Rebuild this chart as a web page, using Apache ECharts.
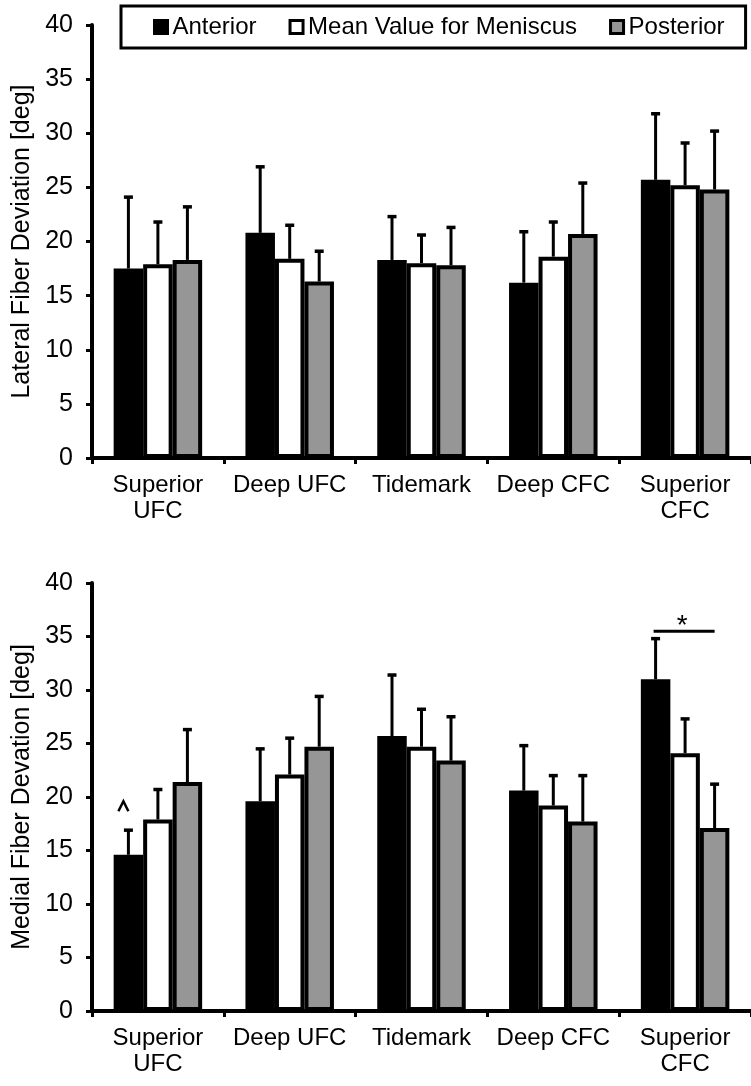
<!DOCTYPE html>
<html>
<head>
<meta charset="utf-8">
<script src="https://cdn.jsdelivr.net/npm/echarts@6/dist/echarts.min.js"></script>
<style>
  html, body { margin: 0; padding: 0; background: #fff; }
  #chart { width: 751px; height: 1086px; }
</style>
</head>
<body>
<div id="chart"></div>
<script>
// categories along both x axes
var categories = ['Superior\nUFC', 'Deep UFC', 'Tidemark', 'Deep CFC', 'Superior\nCFC'];
var seriesNames = ['Anterior', 'Mean Value for Meniscus', 'Posterior'];
var seriesColors = ['#000000', '#ffffff', '#969696'];

// lateral (top chart) means and SD
var latAnterior = [17.5, 20.8, 18.3, 16.2, 25.7];
var latMean     = [17.9, 18.4, 18.0, 18.6, 25.2];
var latPosterior = [18.3, 16.3, 17.8, 20.7, 24.8];
var latAnteriorSd = [6.6, 6.1, 4.0, 4.7, 6.1];
var latMeanSd     = [3.9, 3.1, 2.6, 3.2, 3.9];
var latPosteriorSd = [4.9, 2.8, 3.5, 4.7, 5.4];

// medial (bottom chart) means and SD
var medAnterior = [14.6, 19.6, 25.7, 20.6, 31.0];
var medMean     = [17.9, 22.1, 24.7, 19.2, 24.1];
var medPosterior = [21.4, 24.7, 23.4, 17.7, 17.1];
var medAnteriorSd = [2.3, 4.9, 5.7, 4.2, 3.8];
var medMeanSd     = [2.8, 3.4, 3.5, 2.8, 3.2];
var medPosteriorSd = [4.9, 4.7, 4.1, 4.3, 4.1];

// significance marks on the medial chart
var sigStar = [[4, 35.5]];      // anterior vs posterior, Superior CFC
var caretMark = [[0, 19.6]];    // ^ over anterior, Superior UFC

var BAR_W = 29.5;
var FONT = "'Liberation Sans', Arial, sans-serif";

var myChart = echarts.init(document.getElementById('chart'));

function barSeries(name, idx, data, grid) {
    return {
        name: name,
        type: 'bar',
        xAxisIndex: grid,
        yAxisIndex: grid,
        data: data,
        barWidth: BAR_W,
        barGap: '0%',
        itemStyle: {
            color: seriesColors[idx],
            borderColor: '#000',
            borderWidth: 4
        },
        z: 2
    };
}

// error bar (upper only) drawn with a custom series
function errSeries(idx, means, sds, grid) {
    return {
        type: 'custom',
        xAxisIndex: grid,
        yAxisIndex: grid,
        data: means.map(function (m, i) { return [i, m, sds[i]]; }),
        encode: { x: 0, y: 1 },
        z: 3,
        silent: true,
        renderItem: function (params, api) {
            var p0 = api.coord([api.value(0), api.value(1)]);
            var p1 = api.coord([api.value(0), api.value(1) + api.value(2)]);
            var x = p0[0] + (idx - 1) * BAR_W;
            return {
                type: 'group',
                children: [
                    { type: 'line', shape: { x1: x, y1: p0[1], x2: x, y2: p1[1] }, style: { stroke: '#000', lineWidth: 3 } },
                    { type: 'line', shape: { x1: x - 4.5, y1: p1[1], x2: x + 4.5, y2: p1[1] }, style: { stroke: '#000', lineWidth: 3.5 } }
                ]
            };
        }
    };
}

function xAxisCfg(grid) {
    return {
        type: 'category',
        gridIndex: grid,
        data: categories,
        axisLine: { lineStyle: { color: '#000', width: 4 } },
        axisTick: { show: true, interval: 0, length: 6, lineStyle: { color: '#000', width: 3 } },
        axisLabel: { interval: 0, margin: 14, fontSize: 24, lineHeight: 26, color: '#000', fontFamily: FONT }
    };
}

function yAxisCfg(grid, name) {
    return {
        type: 'value',
        gridIndex: grid,
        min: 0,
        max: 40,
        interval: 5,
        name: name,
        nameLocation: 'middle',
        nameGap: 54,
        nameTextStyle: { fontSize: 25, color: '#000', fontFamily: FONT },
        axisLine: { show: true, lineStyle: { color: '#000', width: 4 } },
        axisTick: { show: true, length: 6, lineStyle: { color: '#000', width: 3 } },
        axisLabel: { margin: 19, fontSize: 25, color: '#000', fontFamily: FONT },
        splitLine: { show: false }
    };
}

var option = {
    animation: false,
    backgroundColor: '#fff',
    legend: {
        data: seriesNames,
        left: 121,
        top: 6,
        padding: [9, 21, 9, 32],
        itemGap: 32,
        itemWidth: 13,
        itemHeight: 13,
        icon: 'rect',
        borderColor: '#000',
        borderWidth: 3,
        itemStyle: { borderColor: '#000', borderWidth: 3 },
        textStyle: { fontSize: 24, lineHeight: 24, color: '#000', fontFamily: FONT }
    },
    grid: [
        { left: 92, top: 25, width: 668, height: 433 },
        { left: 92, top: 583, width: 668, height: 428 }
    ],
    xAxis: [xAxisCfg(0), xAxisCfg(1)],
    yAxis: [yAxisCfg(0, 'Lateral Fiber Deviation [deg]'), yAxisCfg(1, 'Medial Fiber Devation [deg]')],
    series: [
        barSeries(seriesNames[0], 0, latAnterior, 0),
        barSeries(seriesNames[1], 1, latMean, 0),
        barSeries(seriesNames[2], 2, latPosterior, 0),
        errSeries(0, latAnterior, latAnteriorSd, 0),
        errSeries(1, latMean, latMeanSd, 0),
        errSeries(2, latPosterior, latPosteriorSd, 0),

        barSeries(seriesNames[0], 0, medAnterior, 1),
        barSeries(seriesNames[1], 1, medMean, 1),
        barSeries(seriesNames[2], 2, medPosterior, 1),
        errSeries(0, medAnterior, medAnteriorSd, 1),
        errSeries(1, medMean, medMeanSd, 1),
        errSeries(2, medPosterior, medPosteriorSd, 1),

        // * line between anterior and posterior
        {
            type: 'custom',
            xAxisIndex: 1,
            yAxisIndex: 1,
            data: sigStar,
            encode: { x: 0, y: 1 },
            z: 4,
            silent: true,
            renderItem: function (params, api) {
                var p = api.coord([api.value(0), api.value(1)]);
                return {
                    type: 'group',
                    children: [
                        { type: 'line', shape: { x1: p[0] - BAR_W - 2, y1: p[1], x2: p[0] + BAR_W, y2: p[1] }, style: { stroke: '#000', lineWidth: 3 } },
                        { type: 'text', x: p[0] - 3, y: p[1] + 9, style: { text: '*', fontSize: 28, fontFamily: FONT, fill: '#000', align: 'center', verticalAlign: 'bottom' } }
                    ]
                };
            }
        },
        // ^ above anterior bar, drawn as a chevron
        {
            type: 'custom',
            xAxisIndex: 1,
            yAxisIndex: 1,
            data: caretMark,
            encode: { x: 0, y: 1 },
            z: 4,
            silent: true,
            renderItem: function (params, api) {
                var p = api.coord([api.value(0), api.value(1)]);
                var cx = p[0] - BAR_W - 5;
                var cy = p[1] + 5;
                return {
                    type: 'polyline',
                    shape: { points: [[cx - 5, cy + 5], [cx, cy - 5], [cx + 5, cy + 5]] },
                    style: { stroke: '#000', lineWidth: 2.5, fill: null }
                };
            }
        }
    ]
};

myChart.setOption(option);
</script>
</body>
</html>
